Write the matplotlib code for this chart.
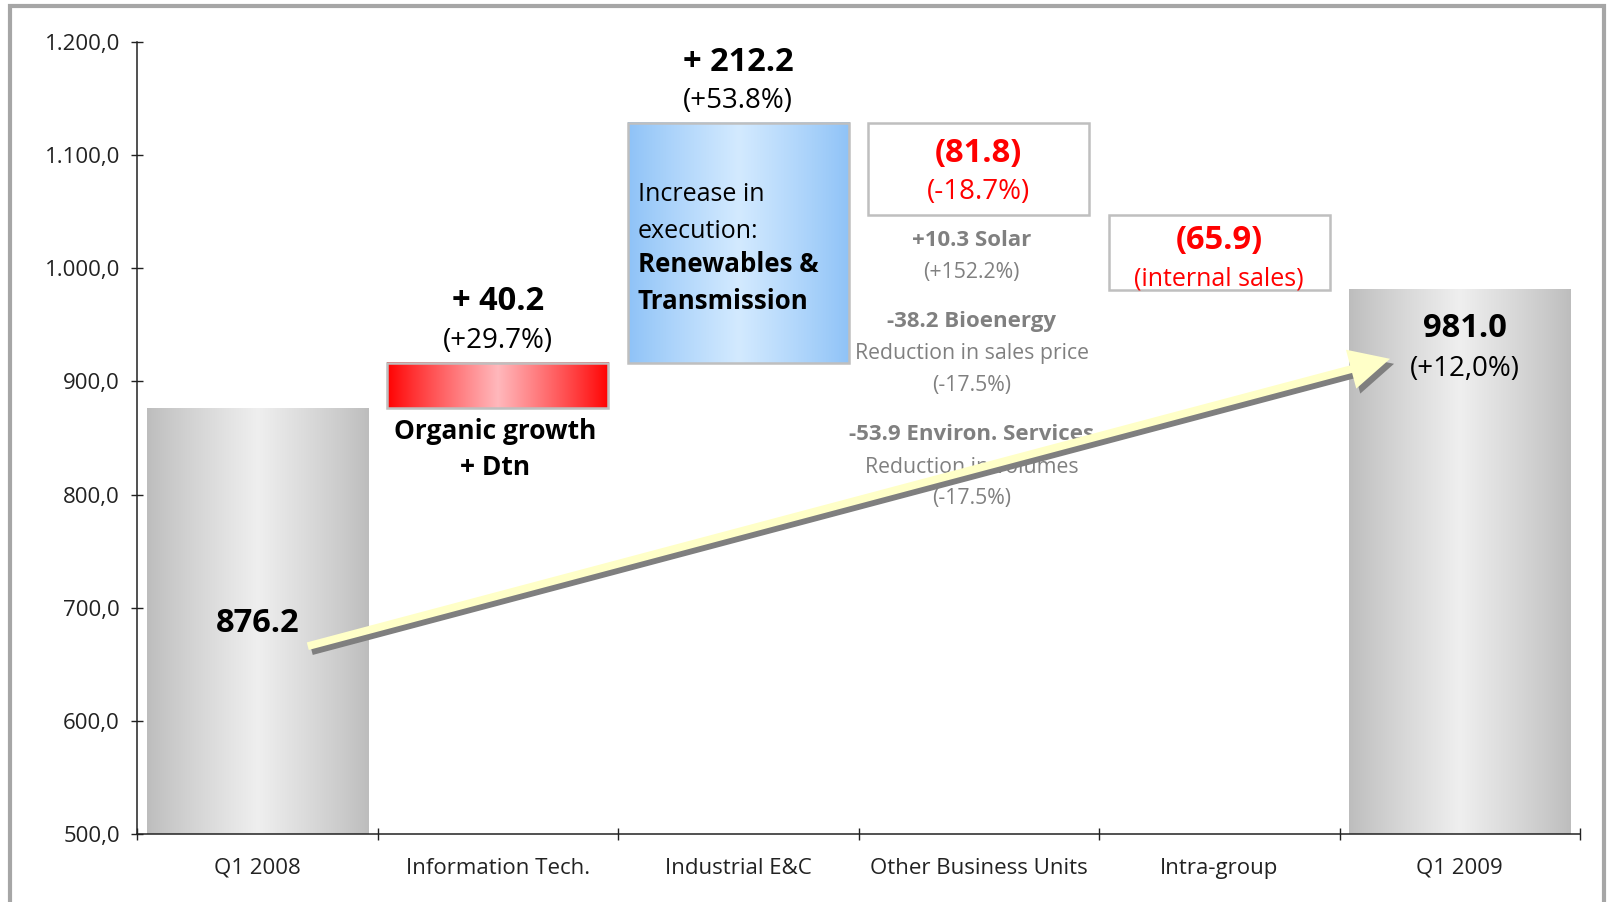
import numpy as np
import matplotlib
matplotlib.use("Agg")
import matplotlib.pyplot as plt
import matplotlib.transforms as mtransforms
from matplotlib.patches import FancyArrowPatch, Rectangle
from matplotlib.colors import to_rgb

plt.rcParams['font.family'] = ['Open Sans', 'DejaVu Sans']

# data
categories = ["Q1 2008", "Information Tech.", "Industrial E&C",
              "Other Business Units", "Intra-group", "Q1 2009"]
start_value = 876.2
deltas = [40.2, 212.2, -81.8, -65.9]
end_value = 981.0
delta_pct = [29.7, 53.8, -18.7]
end_pct = "+12,0"
yticks = [500, 600, 700, 800, 900, 1000, 1100, 1200]

# breakdown of "Other Business Units"
obu_lines = ["+10.3 Solar", "(+152.2%)",
             "-38.2 Bioenergy", "Reduction in sales price", "(-17.5%)",
             "-53.9 Environ. Services", "Reduction in volumes", "(-17.5%)"]
obu_bold = [True, False, True, False, False, True, False, False]
obu_y = [1026.8, 998.5, 955.2, 926.9, 898.6, 855.3, 826.1, 798.7]

# styles
fills = ['gray', 'red', 'blue', 'white', 'white', 'gray']
gradients = {'gray': ('#BDBDBD', '#EFEFEF'),
             'red': ('#FF0000', '#FFB8BC'),
             'blue': ('#8EC2F7', '#D3EAFF')}


def gradient(c_edge, c_mid, n=256):
    t = np.linspace(0, 1, n)
    w = (1 - np.abs(2 * t - 1)) ** 0.9
    e = np.array(to_rgb(c_edge))
    m = np.array(to_rgb(c_mid))
    return (e + (m - e) * w[:, None])[None, :, :]


def de_num(v, pos=None):
    s = f"{v:,.1f}"
    return s.replace(",", "X").replace(".", ",").replace("X", ".")


fig = plt.figure(figsize=(16.08, 9.02), dpi=100)
ax = fig.add_axes([0.0852, 0.0754, 0.8974, 0.8780])

x = np.arange(len(categories))
levels = np.concatenate([[start_value], start_value + np.cumsum(deltas)])
bottoms = [0] + [min(levels[i], levels[i + 1]) for i in range(len(deltas))] + [0]
heights = [start_value] + [abs(d) for d in deltas] + [end_value]

bars = ax.bar(x, heights, bottom=bottoms, width=0.92, zorder=2)
for patch, fill in zip(bars, fills):
    x0, y0 = patch.get_x(), patch.get_y()
    w, h = patch.get_width(), patch.get_height()
    if fill in gradients:
        patch.set_facecolor('none')
        ax.imshow(gradient(*gradients[fill]), extent=[x0, x0 + w, y0, y0 + h],
                  aspect='auto', interpolation='bilinear', zorder=1)
    else:
        patch.set_facecolor('white')
    if fill == 'gray':
        patch.set_edgecolor('none')
    else:
        patch.set_edgecolor('#BFBFBF')
        patch.set_linewidth(1.8)

ax.set_xlim(-0.5, len(categories) - 0.5)
ax.set_ylim(500, 1200)

# axes styling
for side in ['top', 'right']:
    ax.spines[side].set_visible(False)
for side in ['left', 'bottom']:
    ax.spines[side].set_color('#222222')
    ax.spines[side].set_linewidth(1.1)
    ax.spines[side].set_zorder(6)

ax.set_yticks(yticks)
ax.yaxis.set_major_formatter(plt.FuncFormatter(de_num))
ax.tick_params(axis='y', direction='inout', length=8.6, width=1.0,
               pad=8.0, labelsize=16, colors='#222222')
ax.set_xticks(x)
ax.set_xticklabels(categories)
ax.set_xticks(np.arange(-0.5, len(categories)), minor=True)
ax.tick_params(axis='x', which='major', length=0, pad=17, labelsize=16,
               labelcolor='#222222')
ax.tick_params(axis='x', which='minor', direction='inout', length=8.6,
               width=1.0, color='#222222')

big = dict(fontsize=23.5, fontweight='bold', ha='center', va='center_baseline')
sub = dict(fontsize=20, ha='center', va='center_baseline')

# start bar
ax.text(0, 690, f"{start_value:.1f}", color='black', **big)

# Information Tech.
top = levels[1]
ax.text(1, top + 58, f"+ {deltas[0]:.1f}", color='black', **big)
ax.text(1, top + 22, f"(+{delta_pct[0]:.1f}%)", color='black', **sub)
ax.text(0.99, levels[0] - 18, "Organic growth", fontsize=19, fontweight='bold',
        ha='center', va='center_baseline')
ax.text(0.99, levels[0] - 50, "+ Dtn", fontsize=19, fontweight='bold',
        ha='center', va='center_baseline')

# Industrial E&C
top = levels[2]
ax.text(2, top + 57, f"+ {deltas[1]:.1f}", color='black', **big)
ax.text(2, top + 22, f"(+{delta_pct[1]:.1f}%)", color='black', **sub)
blue_left = bars[2].get_x() + 0.043
for txt, yy, wt, fs in [("Increase in", 1068.3, 'normal', 18),
                        ("execution:", 1035.6, 'normal', 18),
                        ("Renewables &", 1006.4, 'bold', 18.6),
                        ("Transmission", 973.7, 'bold', 18.6)]:
    ax.text(blue_left, yy, txt, fontsize=fs, fontweight=wt, ha='left',
            va='center_baseline', color='black', zorder=3)

# Other Business Units
ax.text(3, 1105.4, f"({abs(deltas[2]):.1f})", color='#FF0000', **big)
ax.text(3, 1070.1, f"({delta_pct[2]:.1f}%)", color='#FF0000', **sub)
for txt, yy, b in zip(obu_lines, obu_y, obu_bold):
    ax.text(2.97, yy, txt, fontsize=16 if b else 15.3,
            fontweight='bold' if b else 'normal',
            ha='center', va='center_baseline', color='#808080', zorder=3)

# Intra-group
ax.text(4, 1028.5, f"({abs(deltas[3]):.1f})", color='#FF0000', **big)
ax.text(4, 993.2, "(internal sales)", fontsize=18, color='#FF0000',
        ha='center', va='center_baseline')

# end bar
ax.text(5.02, 949.9, f"{end_value:.1f}", color='black', **big)
ax.text(5.02, 914.5, f"({end_pct}%)", color='black', **sub)

# growth arrow with shadow
style = "simple,head_length=1.45,head_width=1.45,tail_width=0.28"
p_start, p_end = (0.21, 666), (4.71, 920)
shadow_tr = ax.transData + mtransforms.ScaledTranslation(0.04, -0.05, fig.dpi_scale_trans)
shadow = FancyArrowPatch(p_start, p_end, arrowstyle=style, mutation_scale=20,
                         transform=shadow_tr, facecolor='#7F7F7F',
                         edgecolor='none', shrinkA=0, shrinkB=0, zorder=4)
arrow = FancyArrowPatch(p_start, p_end, arrowstyle=style, mutation_scale=20,
                        facecolor='#FFFFC8', edgecolor='none',
                        shrinkA=0, shrinkB=0, zorder=5)
ax.add_patch(shadow)
ax.add_patch(arrow)

# outer frame
fig.patches.append(Rectangle((0.0065, -0.05), 0.991, 1.0434,
                             transform=fig.transFigure, fill=False,
                             edgecolor='#A6A6A6', linewidth=3))

fig.savefig("out.png", dpi=100)
